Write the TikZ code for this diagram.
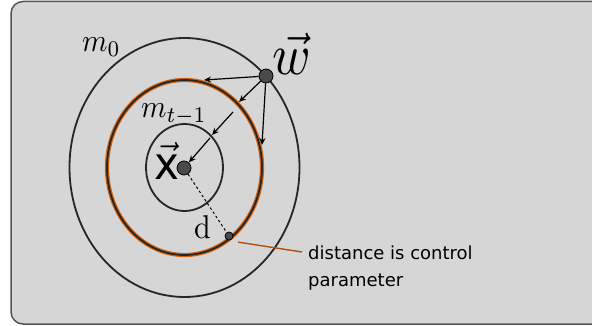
\documentclass[tikz,border=0pt]{standalone}
\usepackage{fontspec}
\newfontfamily\dejavu{DejaVu Sans}
\usetikzlibrary{arrows.meta}
\definecolor{bg}{HTML}{D6D6D6}
\definecolor{frame}{HTML}{555555}
\definecolor{dotfill}{HTML}{4A4A4A}
\definecolor{orng}{HTML}{D2600A}
\definecolor{leader}{HTML}{B0500A}
\tikzset{
  ring/.style={draw=black!85, line width=1.8pt},
  dotnode/.style={circle, draw=black, line width=0.8pt, fill=dotfill, inner sep=0pt, minimum size=#1},
  flow/.style={-{Stealth[length=7pt,width=6pt]}, line width=1.2pt, black},
  lbl/.style={inner sep=0pt, anchor=base west},
}
\begin{document}
\begin{tikzpicture}[x=1pt,y=-1pt]
\useasboundingbox (0,0) rectangle (592,326);
\fill[bg, rounded corners=12pt, draw=frame, line width=1.5pt] (11,1.5) rectangle (606,324);
% circles
\draw[ring] (184.5,167.5) ellipse [x radius=115, y radius=129.5];
\draw[orng, line width=4.2pt] (184.5,167.5) ellipse [x radius=77.5, y radius=87.5];
\draw[ring] (184.5,167.5) ellipse [x radius=77.5, y radius=87.5];
\draw[ring] (184.5,167.5) ellipse [x radius=38.5, y radius=43.5];
% labels
\node[lbl] (m0) at (82,52) {\scalebox{2.9}[3.2]{$m_0$}};
\node[lbl] (mt) at (141,118) {\scalebox{2.9}[3.2]{$m_{t-1}$}};
\node[lbl] (w) at (272,75) {\scalebox{5.2}[5.8]{$\vec{w}$}};
\node[lbl] (x) at (154,180) {\scalebox{4.2}[4.5]{$\vec{\mbox{\dejavu x}}$}};
\node[lbl] (d) at (194,238) {\scalebox{3.0}[3.3]{d}};
\node[inner sep=0pt, anchor=north west, align=left, font=\dejavu\fontsize{18}{27}\selectfont] (txt) at (308,246) {distance is control\\parameter};
% dots
\node[dotnode=14pt] (wdot) at (266,76) {};
\node[dotnode=14pt] (xdot) at (184,168) {};
\node[dotnode=8pt] (ddot) at (229,236) {};
% coordinates for arrows
\coordinate (a1) at (204,80);
\coordinate (a2) at (239,102);
\coordinate (b2) at (233,112);
\coordinate (a3) at (212,135);
\coordinate (b3) at (210,138);
\coordinate (a5) at (262,145);
\coordinate (lend) at (302,252);
\draw[flow] (wdot) -- (a1);
\draw[flow] (wdot) -- (a2);
\draw[flow] (b2) -- (a3);
\draw[flow] (b3) -- (xdot);
\draw[flow] (wdot) -- (a5);
\draw[black, line width=1pt, dash pattern=on 2.5pt off 2.5pt] (xdot) -- (ddot);
\draw[leader, line width=1.4pt] (ddot.south east) ++(6,3) coordinate (lstart) -- (lend);
\end{tikzpicture}
\end{document}
